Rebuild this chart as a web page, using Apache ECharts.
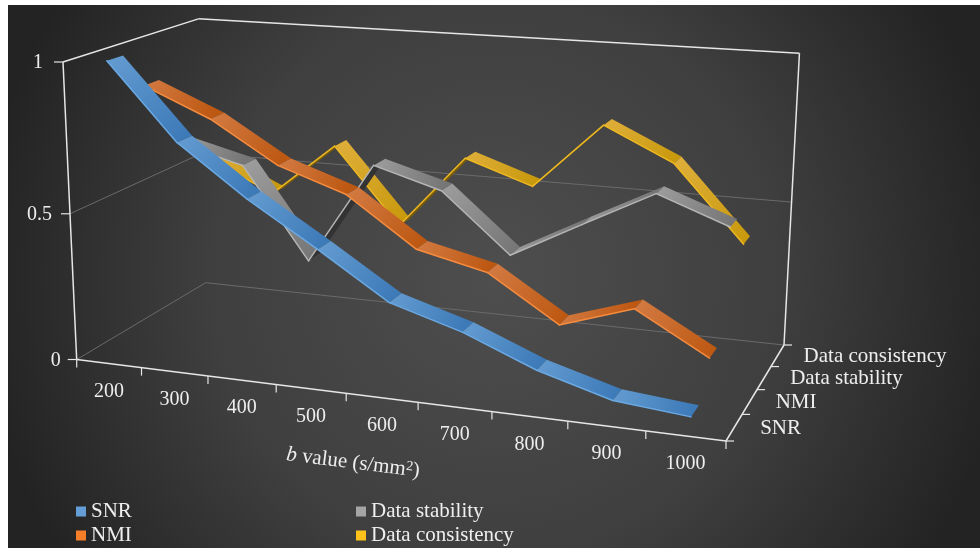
<!DOCTYPE html>
<html>
<head>
<meta charset="utf-8">
<title>b value chart</title>
<script src="https://cdn.jsdelivr.net/npm/echarts@6/dist/echarts.min.js"></script>
<style>
  html, body { margin: 0; padding: 0; background: #fff; }
  #main { width: 980px; height: 548px; }
</style>
</head>
<body>
<div id="main"></div>
<script>
const bValues = ["200", "300", "400", "500", "600", "700", "800", "900", "1000"];
const depthNames = ["SNR", "NMI", "Data stability", "Data consistency"];
const valueTicks = [0, 0.5, 1];
const snr = [1, 0.751, 0.586, 0.443, 0.293, 0.223, 0.127, 0.059, 0.037];
const nmi = [0.877, 0.781, 0.643, 0.565, 0.404, 0.35, 0.201, 0.28, 0.146];
const stability = [0.63, 0.572, 0.254, 0.61, 0.543, 0.344, 0.47, 0.594, 0.506];
const consistency = [0.52, 0.417, 0.608, 0.342, 0.602, 0.523, 0.752, 0.641, 0.388];

const FONT = '"Liberation Serif", serif';
const TEXT = "#eeeeee";
const AXIS = "#e6e6e6";
const GRID = "#6a6a6a";
const RIBBON = 0.056; // half width of a ribbon, in depth units

const looks = {
  SNR: { legend: "#659ed6", from: "#639bd0", to: "#3d7ab8", under: "#24415f", edge: "#6aa8e2" },
  NMI: { legend: "#f57f29", from: "#d27a42", to: "#bd5812", under: "#8a4210", edge: "#f58b3e" },
  "Data stability": { legend: "#a5a5a5", from: "#9c9c9c", to: "#767676", under: "#333333", edge: "#b5b5b5" },
  "Data consistency": { legend: "#ffc21a", from: "#dfae3a", to: "#c8990c", under: "#7a5c08", edge: "#eeb820" },
};

// camera of the 3d box: u along b value, w into depth, v up
function project(u, w, v) {
  const d = 1 - 0.11298 * u + 0.13411 * w - 0.04 * v;
  return [
    (76.7 + 567.28 * u + 156.59 * w - 16.22 * v) / d,
    (359.5 + 31.68 * u - 38.89 * w - 299.98 * v) / d,
  ];
}

function line(a, b, stroke, width) {
  return {
    type: "line",
    shape: { x1: a[0], y1: a[1], x2: b[0], y2: b[1] },
    style: { stroke: stroke, lineWidth: width },
  };
}

function label(text, x, y, align, size) {
  return {
    type: "text",
    x: x,
    y: y,
    style: { text: text, fill: TEXT, font: size + "px " + FONT, align: align, verticalAlign: "middle" },
  };
}

function renderFrame() {
  const kids = [];
  // dim gridlines on floor and walls
  valueTicks.slice(0, 2).forEach((v) => {
    kids.push(line(project(0, 0, v), project(0, 1, v), GRID, 1));
    kids.push(line(project(0, 1, v), project(1, 1, v), GRID, 1));
  });
  // bright outline
  kids.push(line(project(0, 0, 0), project(0, 0, 1), AXIS, 1.5));
  kids.push(line(project(0, 0, 1), project(0, 1, 1), AXIS, 1.5));
  kids.push(line(project(0, 1, 1), project(1, 1, 1), AXIS, 1.5));
  kids.push(line(project(1, 1, 1), project(1, 1, 0), AXIS, 1.5));
  kids.push(line(project(1, 1, 0), project(1, 0, 0), AXIS, 1.5));
  kids.push(line(project(1, 0, 0), project(0, 0, 0), AXIS, 1.5));

  valueTicks.forEach((v) => {
    const p = project(0, 0, v);
    kids.push(line([p[0] - 9, p[1]], p, AXIS, 1.2));
    const gap = v === 0 ? 16 : v === 1 ? 20 : 18;
    kids.push(label(String(v), p[0] - gap, p[1] + 1, "right", 20));
  });
  const n = bValues.length;
  for (let i = 0; i <= n; i++) {
    const p = project(i / n, 0, 0);
    kids.push(line(p, [p[0], p[1] + 8], AXIS, 1.2));
  }
  bValues.forEach((b, i) => {
    const p = project((i + 0.5) / n, 0, 0);
    kids.push(label(b, p[0], p[1] + 28, "center", 20));
  });
  const m = depthNames.length;
  for (let k = 0; k <= m; k++) {
    const p = project(1, k / m, 0);
    kids.push(line(p, [p[0] + 8, p[1]], AXIS, 1.2));
  }
  depthNames.forEach((name, k) => {
    const p = project(1, (k + 0.5) / m, 0);
    kids.push(label(name, p[0] + 26, p[1] + 1, "left", 21));
  });
  // axis title follows the slant of the front edge
  kids.push({
    type: "text",
    x: 353,
    y: 463,
    rotation: -0.125,
    style: {
      text: "{i|b} value (s/mm{s|2})",
      fill: TEXT,
      font: "21px " + FONT,
      align: "center",
      verticalAlign: "middle",
      rich: {
        i: { font: "italic 21px " + FONT, fill: TEXT },
        s: { font: "14px " + FONT, fill: TEXT, verticalAlign: "top" },
      },
    },
  });
  return { type: "group", silent: true, children: kids };
}

function ribbonItem(name, depth) {
  const look = looks[name];
  return function (params, api) {
    const next = api.value(2);
    if (isNaN(next)) return null;
    const cs = params.coordSys;
    const norm = (pt) => [(pt[0] - cs.x) / cs.width, (cs.y + cs.height - pt[1]) / cs.height];
    const i = api.value(0);
    const a = norm(api.coord([i, api.value(1)]));
    const b = norm(api.coord([i + 1, next]));
    const f0 = project(a[0], depth - RIBBON, a[1]);
    const f1 = project(b[0], depth - RIBBON, b[1]);
    const b0 = project(a[0], depth + RIBBON, a[1]);
    const b1 = project(b[0], depth + RIBBON, b[1]);
    const cross = (f1[0] - f0[0]) * (b0[1] - f0[1]) - (f1[1] - f0[1]) * (b0[0] - f0[0]);
    const fill = cross < 0
      ? new echarts.graphic.LinearGradient(f0[0], f0[1], f1[0], f1[1], [
          { offset: 0, color: look.from },
          { offset: 1, color: look.to },
        ], true)
      : look.under;
    return {
      type: "group",
      silent: true,
      children: [
        { type: "polygon", shape: { points: [f0, f1, b1, b0] }, style: { fill: fill } },
        { type: "line", shape: { x1: f0[0], y1: f0[1], x2: f1[0], y2: f1[1] }, style: { stroke: look.edge, lineWidth: 1.5, lineCap: "round" } },
      ],
    };
  };
}

function ribbonSeries(name, values) {
  const depth = (depthNames.indexOf(name) + 0.5) / depthNames.length;
  return {
    name: name,
    type: "custom",
    coordinateSystem: "cartesian2d",
    clip: false,
    silent: true,
    itemStyle: { color: looks[name].legend },
    encode: { x: 0, y: 1 },
    data: values.map((v, i) => [i, v, i + 1 < values.length ? values[i + 1] : NaN]),
    renderItem: ribbonItem(name, depth),
  };
}

function legendEntry(name, left, top) {
  return {
    left: left,
    top: top,
    padding: 0,
    itemWidth: 10,
    itemHeight: 10,
    icon: "rect",
    selectedMode: false,
    textStyle: { color: TEXT, fontFamily: FONT, fontSize: 21 },
    data: [name],
  };
}

const option = {
  animation: false,
  graphic: [
    {
      type: "rect",
      z: -10,
      silent: true,
      shape: { x: 8, y: 5, width: 972, height: 543 },
      style: {
        fill: new echarts.graphic.RadialGradient(0.5, 0.5, 0.95, [
          { offset: 0, color: "#4e4e4e" },
          { offset: 0.55, color: "#3f3f3f" },
          { offset: 1, color: "#232323" },
        ]),
      },
    },
  ],
  legend: [
    legendEntry("SNR", 76, 501),
    legendEntry("NMI", 76, 525),
    legendEntry("Data stability", 356, 501),
    legendEntry("Data consistency", 356, 525),
  ],
  grid: { left: 0, right: 0, top: 0, bottom: 0 },
  xAxis: { type: "category", data: bValues, show: false },
  yAxis: { type: "value", min: 0, max: 1, show: false },
  series: [
    {
      name: "frame",
      type: "custom",
      coordinateSystem: "cartesian2d",
      clip: false,
      silent: true,
      encode: { x: 0, y: 1 },
      data: [[0, 0]],
      renderItem: renderFrame,
    },
    ribbonSeries("Data consistency", consistency),
    ribbonSeries("Data stability", stability),
    ribbonSeries("NMI", nmi),
    ribbonSeries("SNR", snr),
  ],
};

const myChart = echarts.init(document.getElementById("main"));
myChart.setOption(option);
</script>
</body>
</html>
